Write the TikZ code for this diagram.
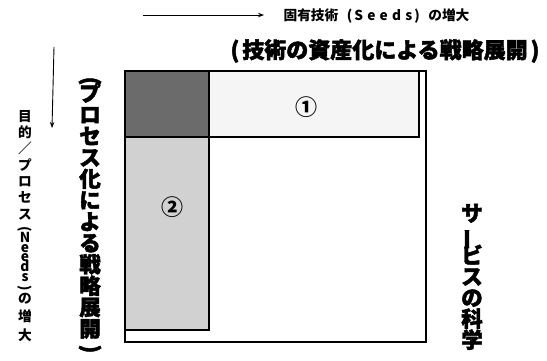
\documentclass[tikz,border=0pt]{standalone}
\usepackage{fontspec}
\newfontfamily\cjk{Noto Sans CJK JP}
\newfontfamily\cjkh{Noto Sans CJK JP}[BoldFeatures={FakeBold=2}]
\usetikzlibrary{arrows.meta}
\begin{document}
\begin{tikzpicture}[x=1pt,y=-1pt,
  thinarrow/.style={draw,line width=0.9pt,-{Stealth[length=6pt,width=4.5pt]}},
  smalltxt/.style={font=\cjk\bfseries\fontsize{13.7}{14}\selectfont, inner sep=0pt},
  vsmall/.style={smalltxt, text height=0.55em, text depth=0em},
  boldtxt/.style={font=\cjkh\bfseries\fontsize{22}{22}\selectfont, inner sep=0pt},
  vbold/.style={font=\cjkh\bfseries\fontsize{21.5}{21.5}\selectfont, inner sep=0pt, text height=0.7em, text depth=0.05em},
  vparen/.style={font=\cjkh\bfseries\fontsize{21.5}{21.5}\selectfont, inner sep=0pt, rotate=-90},
  vsparen/.style={font=\cjk\bfseries\fontsize{13.7}{14}\selectfont, inner sep=0pt, rotate=-90},
  thinbox/.style={draw, line width=1.2pt},
  outerbox/.style={draw, line width=1.8pt},
  digit/.style={font=\cjk\bfseries\fontsize{22}{22}\selectfont, inner sep=0pt}]
\useasboundingbox (0,0) rectangle (547,360);
\fill[white] (0,0) rectangle (547,360);
% regions
\fill[black!4] (125,71) rectangle (419,137);
\fill[black!18] (125,137) rectangle (209,330);
\fill[black!58] (125,71) rectangle (209,137);
\draw[thinbox] (125,71) rectangle (419,137);
\draw[thinbox] (125,137) rectangle (209,330);
\draw[thinbox] (125,71) rectangle (209,137);
\draw[outerbox] (125,71) rectangle (426,342);
\node[digit] (n1) at (306,107) {①};
\node[digit] (n2) at (172,207) {②};
% top arrow and texts
\coordinate (a1s) at (143,15);
\coordinate (a1e) at (264,15);
\draw[thinarrow] (a1s) -- (a1e);
\node[smalltxt] (seeds) at (376.5,16) {固有技術\makebox[90pt]{(\hspace{2pt}\makebox[58pt][s]{S\hfil e\hfil e\hfil d\hfil s}\hspace{2pt})}の増大};
\node[boldtxt] (head) at (385,51) {(\hspace{3pt}技術の資産化による戦略展開\hspace{3pt})};
% left arrow
\coordinate (a2s) at (54,47);
\coordinate (a2e) at (52,128);
\draw[thinarrow] (a2s) -- (a2e);
% left small vertical text
\foreach \c/\y [count=\i] in {目/119, 的/135, ／/151, プ/168, ロ/184, セ/200, ス/217, N/240, e/250, e/259, d/268.5, s/278.5, の/301, 増/319, 大/338}
  {\node[vsmall] (lv\i) at (25,\y) {\c};}
\node[vsparen] (lvpa) at (25,229) {(};
\node[vsparen] (lvpb) at (25,288) {)};
% bold vertical text
\node[vparen] (bv0) at (90,81) {(};
\foreach \c [count=\i] in {プ,ロ,セ,ス,化,に,よ,る,戦,略,展,開}
  {\node[vbold] (bv\i) at (90,{98+21.4*(\i-1)}) {\c};}
\node[vparen] (bv13) at (90,349) {)};
% right bold vertical
\foreach \c/\r [count=\i] in {サ/0,ー/90,ビ/0,ス/0,の/0,科/0,学/0}
  {\node[vbold,rotate=\r] (sv\i) at (472,{218+21.1*(\i-1)}) {\c};}
\end{tikzpicture}
\end{document}
